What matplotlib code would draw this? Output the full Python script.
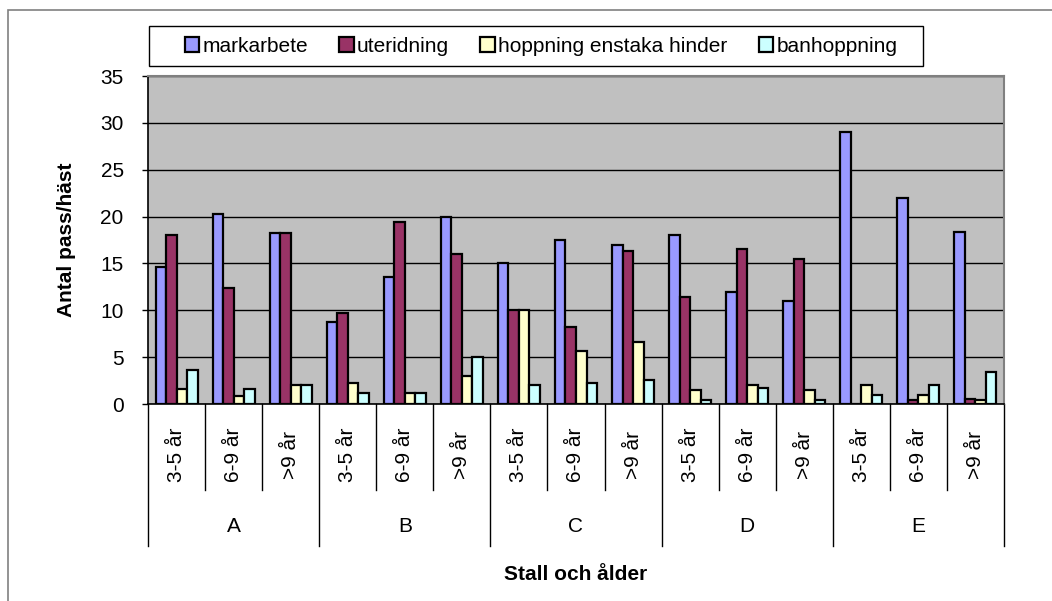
import numpy as np
import matplotlib.pyplot as plt
from matplotlib.patches import Rectangle
import matplotlib.transforms as mtransforms

plt.rcParams['font.family'] = ['Liberation Sans', 'DejaVu Sans']

stall = ['A', 'B', 'C', 'D', 'E']
alder = ['3-5 år', '6-9 år', '>9 år']
series = ['markarbete', 'uteridning', 'hoppning enstaka hinder', 'banhoppning']

markarbete = [14.6, 20.3, 18.3, 8.7, 13.5, 20.0, 15.0, 17.5, 17.0, 18.0, 12.0, 11.0, 29.0, 22.0, 18.4]
uteridning = [18.0, 12.4, 18.3, 9.7, 19.4, 16.0, 10.0, 8.2, 16.3, 11.4, 16.5, 15.5, 0.0, 0.4, 0.5]
hoppning = [1.6, 0.9, 2.0, 2.2, 1.2, 3.0, 10.0, 5.7, 6.6, 1.5, 2.0, 1.5, 2.0, 1.0, 0.4]
banhoppning = [3.6, 1.6, 2.0, 1.2, 1.2, 5.0, 2.0, 2.2, 2.6, 0.4, 1.7, 0.4, 1.0, 2.0, 3.4]

colors = ['#9999FF', '#993366', '#FFFFCC', '#CCFFFF']
fs = 15

W, H = 1052, 601
fig = plt.figure(figsize=(W / 100, H / 100), dpi=100)

# outer chart border (runs off right and bottom edges)
fig.patches.append(Rectangle((8 / W, -0.05), 1.1, 1 - 10 / H + 0.05, transform=fig.transFigure,
                             fill=False, edgecolor='#808080', linewidth=1.2))
# legend box
fig.patches.append(Rectangle((149 / W, 1 - 66 / H), 774 / W, 40 / H, transform=fig.transFigure,
                             fill=False, edgecolor='black', linewidth=1))

ax = fig.add_axes([148 / W, 1 - 404 / H, 856 / W, 328 / H])
ax.set_facecolor('#C0C0C0')

n = len(markarbete)
x = np.arange(n)
w = 0.184
data = [markarbete, uteridning, hoppning, banhoppning]
for k, (vals, c, lab) in enumerate(zip(data, colors, series)):
    ax.bar(x + (k - 1.5) * w, vals, width=w, color=c, edgecolor='black',
           linewidth=1.6, label=lab, zorder=3)

ax.set_xlim(-0.5, n - 0.5)
ax.set_ylim(0, 35)
ax.set_yticks(range(0, 36, 5))
ax.yaxis.grid(True, color='black', linewidth=1)
ax.set_axisbelow(True)
ax.tick_params(axis='y', direction='out', length=4.5, width=1, labelsize=fs, pad=13)
ax.set_xticks([])

for s in ['top', 'right']:
    ax.spines[s].set_color('#808080')
    ax.spines[s].set_linewidth(1.5)
ax.spines['left'].set_linewidth(1.2)
ax.spines['bottom'].set_linewidth(1.2)

# two-level category axis
px = 1 / 328
tr = mtransforms.blended_transform_factory(ax.transData, ax.transAxes)
for i in range(n + 1):
    depth = 142 if i % 3 == 0 else 86
    ax.plot([i - 0.5, i - 0.5], [0, -depth * px], color='black', linewidth=1,
            transform=tr, clip_on=False)
for i in range(n):
    ax.text(i, -51 * px, alder[i % 3], rotation=90, ha='center', va='center',
            fontsize=fs, transform=tr)
for g, name in enumerate(stall):
    ax.text(g * 3 + 1, -123 * px, name, ha='center', va='center', fontsize=fs, transform=tr)

fig.text(576 / W, 1 - 575 / H, 'Stall och ålder', ha='center', va='center',
         fontsize=fs, fontweight='bold')
fig.text(67 / W, 1 - 240 / H, 'Antal pass/häst', ha='center', va='center',
         rotation=90, fontsize=fs, fontweight='bold')

leg = fig.legend(loc='center', ncol=4,
                 bbox_to_anchor=(541 / W, 1 - 46 / H),
                 bbox_transform=fig.transFigure, fontsize=fs, frameon=False,
                 handlelength=0.7, handleheight=0.7,
                 handletextpad=0.15, columnspacing=1.5)

fig.savefig('out.png', dpi=100)
